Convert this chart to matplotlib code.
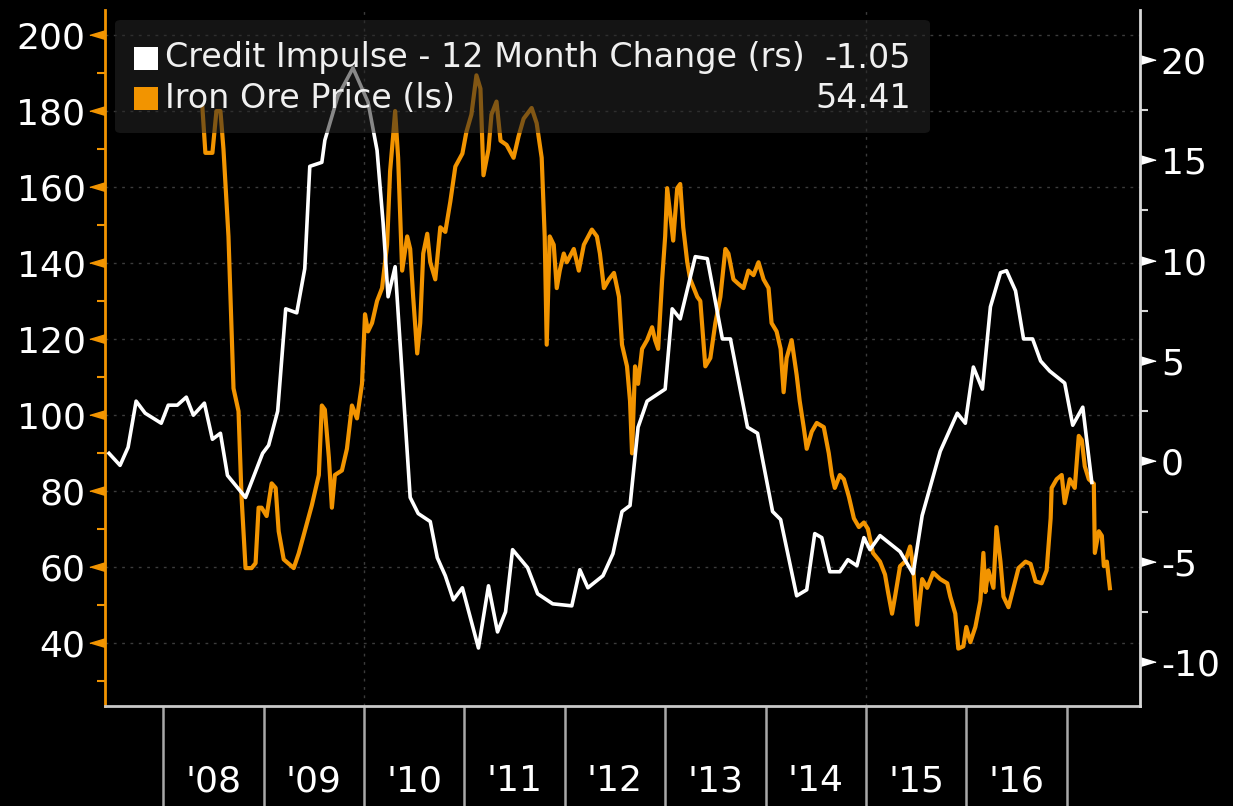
import matplotlib
matplotlib.use("Agg")
import matplotlib.pyplot as plt
import matplotlib.transforms as mtransforms
from matplotlib.patches import FancyBboxPatch, Rectangle

plt.rcParams["font.family"] = ["DejaVu Sans"]
plt.rcParams["axes.unicode_minus"] = False

# values, x in decimal years
credit_years = [2007.46, 2007.57, 2007.65, 2007.73, 2007.82, 2007.98, 2008.05, 2008.14, 2008.23, 2008.30,
                2008.41, 2008.49, 2008.57, 2008.64, 2008.82, 2008.99, 2009.05, 2009.14, 2009.22, 2009.33,
                2009.41, 2009.46, 2009.58, 2009.61, 2009.74, 2009.89, 2010.04, 2010.13, 2010.19, 2010.24,
                2010.31, 2010.46, 2010.54, 2010.66, 2010.73, 2010.81, 2010.89, 2010.98, 2011.14, 2011.24,
                2011.33, 2011.41, 2011.48, 2011.63, 2011.73, 2011.88, 2012.07, 2012.15, 2012.23, 2012.38,
                2012.48, 2012.57, 2012.65, 2012.73, 2012.82, 2013.00, 2013.07, 2013.15, 2013.30, 2013.42,
                2013.57, 2013.65, 2013.82, 2013.92, 2014.07, 2014.15, 2014.31, 2014.41, 2014.49, 2014.56,
                2014.64, 2014.74, 2014.82, 2014.91, 2014.98, 2015.04, 2015.14, 2015.34, 2015.47, 2015.56,
                2015.74, 2015.91, 2015.99, 2016.07, 2016.16, 2016.24, 2016.34, 2016.40, 2016.49, 2016.57,
                2016.66, 2016.74, 2016.83, 2016.98, 2017.06, 2017.16, 2017.25]
credit_impulse = [0.4, -0.2, 0.7, 3.0, 2.4, 1.9, 2.8, 2.8, 3.2, 2.3,
                  2.9, 1.1, 1.4, -0.7, -1.8, 0.4, 0.8, 2.5, 7.6, 7.4,
                  9.6, 14.7, 14.9, 16.0, 18.2, 19.6, 17.9, 15.5, 11.9, 8.2,
                  9.7, -1.8, -2.6, -3.0, -4.8, -5.7, -6.9, -6.3, -9.3, -6.2,
                  -8.5, -7.5, -4.4, -5.3, -6.6, -7.1, -7.2, -5.4, -6.3, -5.7,
                  -4.6, -2.5, -2.2, 1.7, 3.0, 3.6, 7.6, 7.1, 10.2, 10.1,
                  6.1, 6.1, 1.7, 1.4, -2.5, -2.9, -6.7, -6.4, -3.6, -3.8,
                  -5.5, -5.5, -4.9, -5.2, -3.8, -4.4, -3.7, -4.5, -5.6, -2.7,
                  0.5, 2.4, 1.9, 4.7, 3.6, 7.7, 9.4, 9.5, 8.5, 6.1,
                  6.1, 5.0, 4.5, 3.9, 1.8, 2.7, -1.05]

ore_years = [2008.39, 2008.42, 2008.49, 2008.53, 2008.57, 2008.60, 2008.65, 2008.70, 2008.75, 2008.78,
             2008.82, 2008.88, 2008.92, 2008.95, 2008.98, 2009.03, 2009.08, 2009.12, 2009.15, 2009.20,
             2009.30, 2009.35, 2009.41, 2009.48, 2009.55, 2009.58, 2009.61, 2009.65, 2009.68, 2009.71,
             2009.78, 2009.83, 2009.88, 2009.93, 2009.98, 2010.01, 2010.04, 2010.08, 2010.13, 2010.18,
             2010.23, 2010.26, 2010.29, 2010.31, 2010.34, 2010.38, 2010.43, 2010.46, 2010.49, 2010.53,
             2010.56, 2010.59, 2010.63, 2010.66, 2010.71, 2010.76, 2010.81, 2010.86, 2010.91, 2010.98,
             2011.02, 2011.07, 2011.12, 2011.16, 2011.19, 2011.24, 2011.27, 2011.32, 2011.36, 2011.42,
             2011.49, 2011.54, 2011.59, 2011.67, 2011.72, 2011.77, 2011.80, 2011.82, 2011.85, 2011.89,
             2011.92, 2011.95, 2011.99, 2012.02, 2012.09, 2012.14, 2012.19, 2012.27, 2012.32, 2012.35,
             2012.39, 2012.44, 2012.49, 2012.54, 2012.57, 2012.62, 2012.65, 2012.67, 2012.70, 2012.73,
             2012.77, 2012.82, 2012.87, 2012.90, 2012.93, 2012.97, 2013.00, 2013.02, 2013.05, 2013.08,
             2013.12, 2013.15, 2013.18, 2013.22, 2013.25, 2013.32, 2013.35, 2013.40, 2013.45, 2013.50,
             2013.55, 2013.60, 2013.63, 2013.68, 2013.73, 2013.78, 2013.83, 2013.88, 2013.93, 2013.98,
             2014.03, 2014.06, 2014.11, 2014.15, 2014.18, 2014.21, 2014.26, 2014.31, 2014.34, 2014.38,
             2014.41, 2014.46, 2014.51, 2014.58, 2014.63, 2014.66, 2014.69, 2014.74, 2014.78, 2014.83,
             2014.88, 2014.93, 2014.98, 2015.02, 2015.07, 2015.14, 2015.19, 2015.22, 2015.26, 2015.29,
             2015.34, 2015.39, 2015.44, 2015.47, 2015.51, 2015.56, 2015.61, 2015.67, 2015.74, 2015.81,
             2015.84, 2015.89, 2015.92, 2015.97, 2016.00, 2016.04, 2016.09, 2016.14, 2016.17, 2016.19,
             2016.22, 2016.27, 2016.30, 2016.34, 2016.37, 2016.42, 2016.47, 2016.52, 2016.59, 2016.64,
             2016.69, 2016.75, 2016.80, 2016.84, 2016.85, 2016.90, 2016.95, 2016.98, 2017.03, 2017.08,
             2017.12, 2017.15, 2017.18, 2017.22, 2017.27, 2017.28, 2017.32, 2017.35, 2017.37, 2017.40,
             2017.43]
ore_price = [181, 169, 169, 180, 180, 170, 147, 107, 101, 78.5,
             59.7, 59.7, 61, 75.6, 75.6, 73.4, 82, 80.8, 69.4, 62,
             59.7, 63.6, 69.4, 76.2, 84.2, 102.5, 101.4, 88.8, 75.6, 84.2,
             85.4, 91.1, 102.5, 99.1, 108.2, 126.5, 122, 124.2, 130, 133.4,
             144.8, 164.2, 173.4, 180, 167.7, 138, 147, 143.7, 131, 116.2,
             124.2, 142.5, 147.7, 140.2, 135.7, 149.4, 148.2, 156.2, 165.4, 168.8,
             174.5, 179.1, 189.4, 185.9, 163.1, 169.9, 179.1, 182.5, 172.2, 171.1,
             167.7, 173.4, 178, 180.8, 176.8, 167.7, 147, 118.5, 147, 144.8,
             133.4, 138, 142.5, 140.2, 143.7, 138, 144.8, 148.8, 147, 142.5,
             133.4, 135.7, 137.4, 131.1, 118.5, 112.8, 103.7, 89.9, 112.8, 108.2,
             117.4, 119.7, 123.1, 119.7, 117.4, 135.7, 147, 159.7, 152.8, 145.9,
             159.7, 160.8, 149.4, 140.2, 135.7, 131.1, 130, 112.8, 115, 124.2,
             131.1, 143.7, 142.5, 135.7, 134.5, 133.4, 138, 136.8, 140.2, 135.7,
             133.4, 124.2, 122, 117.4, 106, 115, 119.7, 110.5, 103.7, 96.8,
             91.1, 95.6, 97.9, 96.8, 89.9, 84.2, 80.8, 84.2, 83.1, 78.5,
             72.8, 70.5, 71.7, 70, 63.7, 61.4, 58, 53.4, 47.7, 52.2,
             60.2, 61.4, 65.4, 60.2, 44.8, 56.8, 54.5, 58.5, 56.8, 55.7,
             52.2, 47.7, 38.5, 39.1, 44.2, 40.2, 44.2, 51.1, 63.7, 53.4,
             59.1, 54.5, 70.5, 61.4, 52.2, 49.4, 54.5, 59.7, 61.4, 60.8,
             56.2, 55.7, 59.1, 72.8, 80.8, 83.1, 84.2, 76.8, 83.1, 80.8,
             94.5, 93.4, 86.5, 83.1, 81.9, 63.7, 69.4, 68.2, 60.2, 61.4,
             54.41]

year_bounds = list(range(2008, 2018))
year_labels = ["'08", "'09", "'10", "'11", "'12", "'13", "'14", "'15", "'16"]
left_ticks = [40, 60, 80, 100, 120, 140, 160, 180, 200]
left_minor = [30, 50, 70, 90, 110, 130, 150, 170, 190]
right_ticks = [-10, -5, 0, 5, 10, 15, 20]
right_minor = [-7.5, -2.5, 2.5, 7.5, 12.5, 17.5]
legend_names = ["Credit Impulse - 12 Month Change (rs)", "Iron Ore Price (ls)"]
legend_values = ["-1.05", "54.41"]

ORANGE = "#f29400"
GRID = "#3c3c3c"
SEP = "#a8a8a8"
FS = 26

W, H = 1233, 806
fig = plt.figure(figsize=(W / 100, H / 100), dpi=100, facecolor="black")
ax = fig.add_axes([105 / W, 100 / H, 1035 / W, 696 / H])
ax.set_facecolor("black")
ax2 = ax.twinx()

ax.plot(ore_years, ore_price, color=ORANGE, lw=3.0, zorder=3)
ax2.plot(credit_years, credit_impulse, color="white", lw=2.6, zorder=3)

ax.set_xlim(2007.42, 2017.73)
ax.set_ylim(23.4, 206.6)
ax2.set_ylim(-12.19, 22.49)

for side in ("top", "right"):
    ax.spines[side].set_visible(False)
for side in ("top", "left", "bottom"):
    ax2.spines[side].set_visible(False)
ax.spines["left"].set_color(ORANGE)
ax.spines["left"].set_linewidth(2)
ax.spines["bottom"].set_color("#c8c8c8")
ax.spines["bottom"].set_linewidth(2)
ax2.spines["right"].set_color("#d8d8d8")
ax2.spines["right"].set_linewidth(2)

# dotted grid
ax.set_yticks(left_ticks)
ax.set_yticks(left_minor, minor=True)
ax.yaxis.grid(True, which="major", color=GRID, linestyle=(0, (2, 4)), lw=1)
for yr in (2010, 2015):
    ax.axvline(yr, color=GRID, linestyle=(0, (2, 4)), lw=1, zorder=1)

ax.tick_params(axis="y", which="major", length=0, pad=14, labelsize=FS, labelcolor="white")
ax.tick_params(axis="y", which="minor", length=6, width=1.5, color=ORANGE)
ax2.set_yticks(right_ticks)
ax2.set_yticks(right_minor, minor=True)
ax2.tick_params(axis="y", which="major", length=0, pad=15, labelsize=FS, labelcolor="white")
ax2.tick_params(axis="y", which="minor", length=6, width=1.5, color="#d8d8d8")

# triangle markers on the labelled ticks
tri_left = [(-1, 0), (1, 0.6), (1, -0.6)]
tri_right = [(1, 0), (-1, 0.6), (-1, -0.6)]
tl = mtransforms.blended_transform_factory(ax.transAxes, ax.transData)
tr = mtransforms.blended_transform_factory(ax2.transAxes, ax2.transData)
ax.plot([-7.5 / 1035] * len(left_ticks), left_ticks, ls="none", marker=tri_left, ms=11,
        color=ORANGE, transform=tl, clip_on=False)
ax2.plot([1 + 7.5 / 1035] * len(right_ticks), right_ticks, ls="none", marker=tri_right, ms=11,
         color="white", transform=tr, clip_on=False)

# year separators and labels
ax.set_xticks(year_bounds)
ax.set_xticklabels([""] * len(year_bounds))
ax.tick_params(axis="x", which="major", length=72, width=1.8, color=SEP)
ax.set_xticks([y + 0.5 for y in year_bounds[:-1]], minor=True)
ax.set_xticklabels(year_labels, minor=True)
ax.tick_params(axis="x", which="minor", length=0, pad=42, labelsize=FS, labelcolor="white")

# legend box
box = FancyBboxPatch((115 / W, 1 - 133 / H), 815 / W, 113 / H,
                     boxstyle="round,pad=0,rounding_size=0.005", transform=fig.transFigure,
                     facecolor=(0.15, 0.15, 0.15, 0.55), edgecolor="none", zorder=5)
fig.add_artist(box)
for i, (name, value, col) in enumerate(zip(legend_names, legend_values, ["white", ORANGE])):
    yc = 58 + i * 40
    fig.add_artist(Rectangle((134 / W, 1 - (yc + 11.5) / H), 24 / W, 23 / H,
                             transform=fig.transFigure, facecolor=col, edgecolor="none", zorder=6))
    fig.text(165 / W, 1 - yc / H, name, color="#f0f0f0", fontsize=24, va="center", ha="left", zorder=6)
    fig.text(911 / W, 1 - yc / H, value, color="#f0f0f0", fontsize=24, va="center", ha="right", zorder=6)

fig.savefig("out.png", dpi=100, facecolor="black")
